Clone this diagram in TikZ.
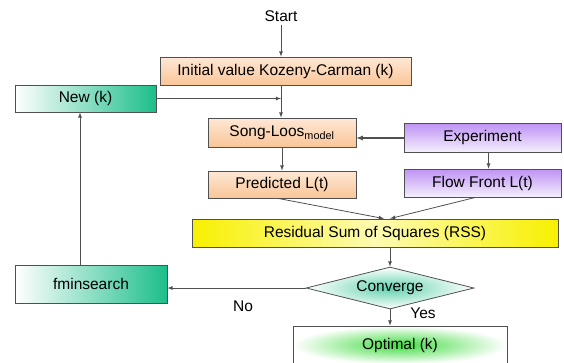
\documentclass[tikz,border=0pt]{standalone}
\usepackage{fontspec}
\setmainfont{Liberation Sans}
\usetikzlibrary{shapes.geometric}

\definecolor{linegray}{HTML}{505050}
\definecolor{peachtop}{HTML}{FEE8D6}
\definecolor{peachbot}{HTML}{F9C597}
\definecolor{purptop}{HTML}{BE92F4}
\definecolor{purpbot}{HTML}{F5EFFD}
\definecolor{teal}{HTML}{1CBE8A}
\definecolor{brightgreen}{HTML}{3FDC3F}
\definecolor{rssyellow}{HTML}{F8F000}

\begin{document}
\begin{tikzpicture}[x=1pt,y=-1pt,
box/.style={rectangle,draw=linegray,line width=0.8pt,inner sep=0pt},
orangebox/.style={box,top color=peachtop,bottom color=peachbot},
purplebox/.style={box,top color=purptop,bottom color=purpbot},
greenbox/.style={box,left color=white,right color=teal},
arr/.style={-latex,draw=linegray,line width=0.8pt}]
\tikzstyle{every node}=[font=\fontsize{15.5}{18}\selectfont]
\useasboundingbox (0,0) rectangle (564,362);

    \node (start) at (281,16) {Start};
    \node (init) [orangebox,minimum width=251,minimum height=28] at (285.5,71)
      {Initial value Kozeny-Carman (k)};
    \node (newk) [greenbox,minimum width=141,minimum height=27] at (85.5,98.5)
      {New (k)};
    \node (song) [orangebox,minimum width=148,minimum height=29] at (282,132.5)
      {Song-Loos\textsubscript{model}};
    \node (pred) [orangebox,minimum width=148,minimum height=27] at (282,184.5)
      {Predicted L(t)};
    \node (exper) [purplebox,minimum width=157,minimum height=29] at (482.5,137.5)
      {Experiment};
    \node (flow) [purplebox,minimum width=157,minimum height=28] at (482.5,183)
      {Flow Front L(t)};
    \node (rss) [box,left color=rssyellow,right color=rssyellow,middle color=rssyellow!30,
      minimum width=366,minimum height=28] at (375,233)
      {Residual Sum of Squares (RSS)};
    \node (conv) [diamond,draw=linegray,line width=0.8pt,inner sep=0pt,aspect=4,
      inner color=teal!70,outer color=white,minimum width=168,minimum height=42]
      at (390,288) {Converge};
    \node (fmin) [greenbox,minimum width=152,minimum height=38] at (91,284)
      {fminsearch};
    \node (opt) [box,inner color=brightgreen,outer color=white,
      minimum width=214,minimum height=38] at (400,345) {Optimal (k)};
    \node (no) at (243,306) {No};
    \node (yes) at (423,313) {Yes};

    \draw[arr] (start.south -| start) -- (start |- init.north);
    \draw[arr] (start |- init.south) -- (start |- song.north);
    \draw[arr] (newk.east) -- (newk.east -| start);
    \draw[arr,line width=1.2pt] ([yshift=-0.5]exper.west) -- ([yshift=-0.5]exper.west -| song.east);
    \draw[arr] (song.south) -- (pred.north);
    \draw[arr] ([xshift=6]exper.south) -- ([xshift=6]flow.north);
    \draw[arr] ([xshift=-4]pred.south) -- ([xshift=9]rss.north);
    \draw[arr] ([xshift=-7]flow.south) -- ([xshift=15]rss.north);
    \draw[arr] (rss.south -| conv) -- (conv.north);
    \draw[arr] (conv.west) -- (conv.west -| fmin.east);
    \draw[arr] ([xshift=-11]fmin.north) -- ([xshift=-11]fmin.north |- newk.south);
    \draw[arr] (conv.south) -- (conv |- opt.north);

%   \node at (20,20) {};
\end{tikzpicture}
\end{document}
